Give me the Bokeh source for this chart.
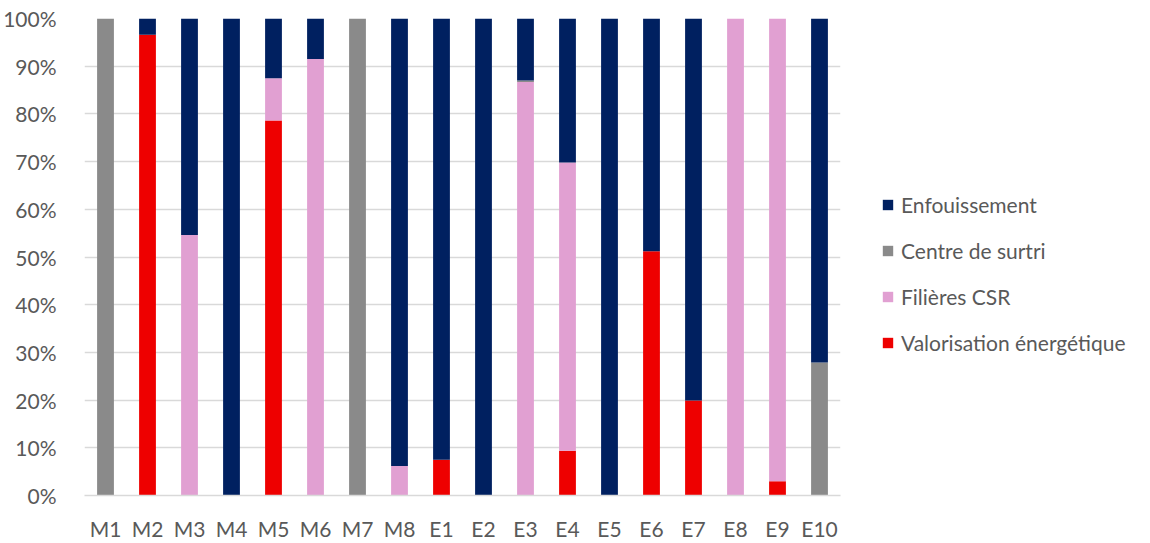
from bokeh.plotting import figure
from bokeh.models import Legend, LegendItem, NumeralTickFormatter, FixedTicker, ColumnDataSource
from bokeh.embed import file_html
from bokeh.resources import INLINE

categories = ["M1", "M2", "M3", "M4", "M5", "M6", "M7", "M8", "E1", "E2",
              "E3", "E4", "E5", "E6", "E7", "E8", "E9", "E10"]
valorisation = [0, 96.6, 0, 0, 78.6, 0, 0, 0, 7.5, 0, 0, 9.4, 0, 51.2, 19.9, 0, 3.0, 0]
filieres = [0, 0, 54.6, 0, 8.9, 91.5, 0, 6.2, 0, 0, 86.7, 60.4, 0, 0, 0, 100, 97.0, 0]
surtri = [100, 0, 0, 0, 0, 0, 100, 0, 0, 0, 0.3, 0, 0, 0, 0, 0, 0, 27.9]
enfouissement = [0, 3.4, 45.4, 100, 12.5, 8.5, 0, 93.8, 92.5, 100, 13.0, 30.2, 100, 48.8, 80.1, 0, 0, 72.1]

series_names = ["Valorisation énergétique", "Filières CSR", "Centre de surtri", "Enfouissement"]
series_keys = ["valo", "csr", "surtri", "enf"]
colors = ["#EE0000", "#E1A0D2", "#8A8A8A", "#002060"]

src = ColumnDataSource(dict(
    cat=categories,
    valo=[v / 100 for v in valorisation],
    csr=[v / 100 for v in filieres],
    surtri=[v / 100 for v in surtri],
    enf=[v / 100 for v in enfouissement],
))

FONT = "Lato"
TXT = "#595959"

p = figure(x_range=categories, y_range=(0, 1), frame_width=756, frame_height=477,
           output_backend="svg", toolbar_location=None,
           min_border_left=76, min_border_top=18, min_border_right=0, min_border_bottom=0)

rs = p.vbar_stack(series_keys, x="cat", width=0.4, source=src, color=colors, line_color=None)

p.x_range.range_padding = 0
p.outline_line_color = None
p.xgrid.grid_line_color = None
p.ygrid.grid_line_color = "#D9D9D9"
p.ygrid.grid_line_width = 1.5

p.yaxis.ticker = FixedTicker(ticks=[i / 10 for i in range(11)])
p.yaxis.formatter = NumeralTickFormatter(format="0%")
p.yaxis.axis_line_color = None
p.yaxis.major_tick_line_color = None
p.yaxis.minor_tick_line_color = None
p.yaxis.major_label_standoff = 22
p.xaxis.axis_line_color = "#D9D9D9"
p.xaxis.axis_line_width = 1.5
p.xaxis.major_tick_line_color = None
p.xaxis.minor_tick_line_color = None
p.xaxis.major_label_standoff = 14
for ax in (p.xaxis, p.yaxis):
    ax.major_label_text_font = FONT
    ax.major_label_text_font_size = "21px"
    ax.major_label_text_color = TXT

items = [LegendItem(label=series_names[i], renderers=[rs[i]]) for i in (3, 2, 1, 0)]
legend = Legend(items=items, location=(41, 140), orientation="vertical",
                label_text_font=FONT, label_text_font_size="21px", label_text_color=TXT,
                glyph_width=13, glyph_height=13, label_standoff=7, spacing=21,
                border_line_color=None, background_fill_alpha=0, padding=0, margin=0)
p.add_layout(legend, "right")

open("out.html", "w").write(file_html(p, INLINE))
